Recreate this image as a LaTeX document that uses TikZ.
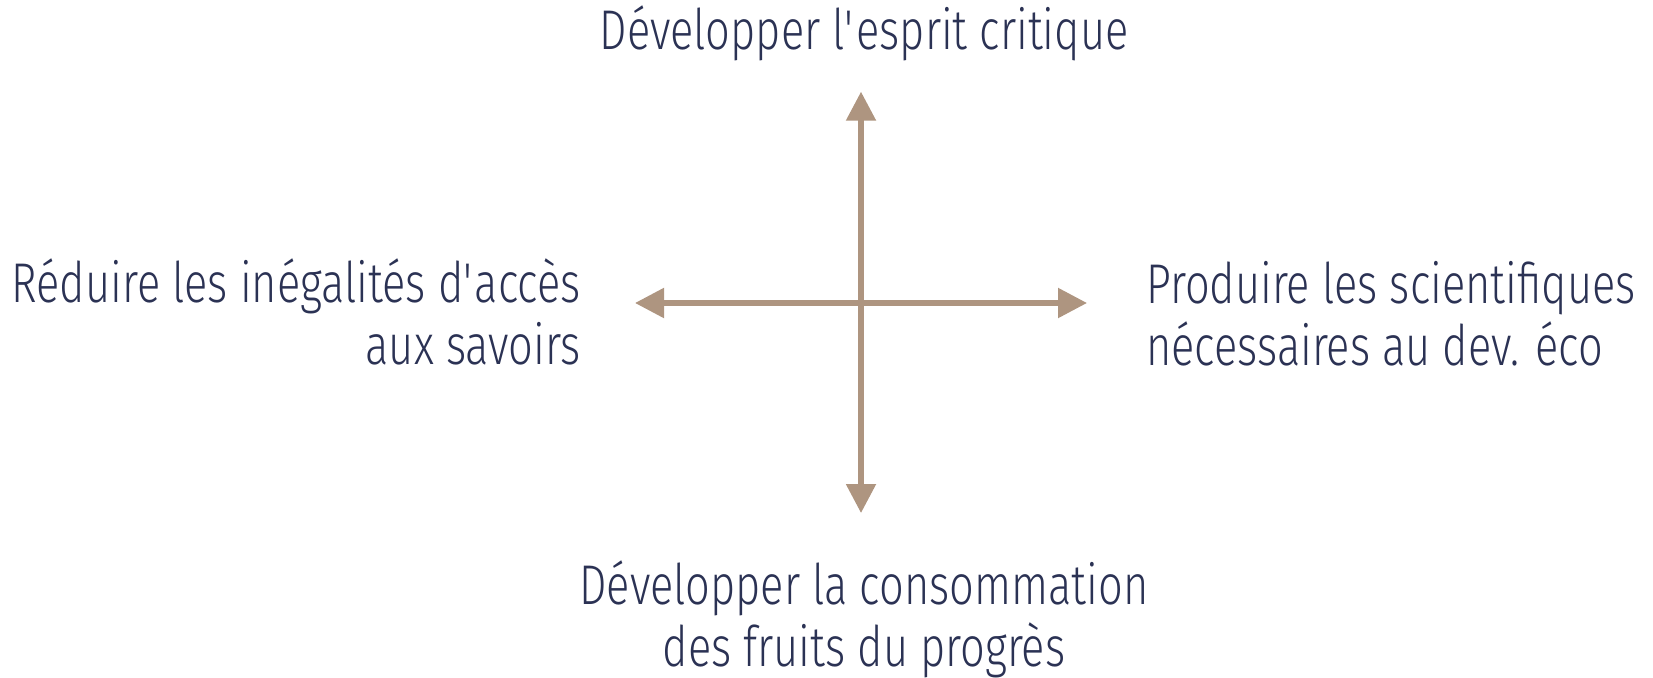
\documentclass[tikz,border=0pt]{standalone}
\usepackage{fontspec}
\setmainfont{Fira Sans}[UprightFont=* Light, FakeStretch=0.775]
\usetikzlibrary{arrows.meta}
\definecolor{inkblue}{HTML}{2B3254}
\definecolor{taupe}{HTML}{AE9580}
\begin{document}
\begin{tikzpicture}[x=1pt,y=1pt,
  axis/.style={draw=taupe, line width=5.3pt,
    {Triangle[length=29pt,width=29pt]}-{Triangle[length=29pt,width=29pt]}},
  label/.style={text=inkblue, inner sep=0pt,
    font=\fontsize{56}{62}\selectfont}]
  \useasboundingbox (0,0) rectangle (1653,-677);
  % axis end points
  \coordinate (c) at (861,-303);
  \coordinate (w) at (635,-303);
  \coordinate (e) at (1087,-303);
  \coordinate (n) at (861,-91.7);
  \coordinate (s) at (861,-513);
  \draw[axis] (w) -- (e);
  \draw[axis] (n) -- (s);
  % pole labels (base anchor sits on the last line)
  \node[label, anchor=base] (top) at (864,-49)
    {Développer l\textquotesingle esprit critique};
  \node[label, anchor=base east, align=right] (left) at (581,-364)
    {Réduire les inégalités d\textquotesingle accès\\aux savoirs};
  \node[label, anchor=base west, align=left] (right) at (1146,-365)
    {Produire les scientifiques\\nécessaires au dev. éco};
  \node[label, anchor=base, align=center] (bottom) at (864,-666)
    {Développer la consommation\\des fruits du progrès};
\end{tikzpicture}
\end{document}
